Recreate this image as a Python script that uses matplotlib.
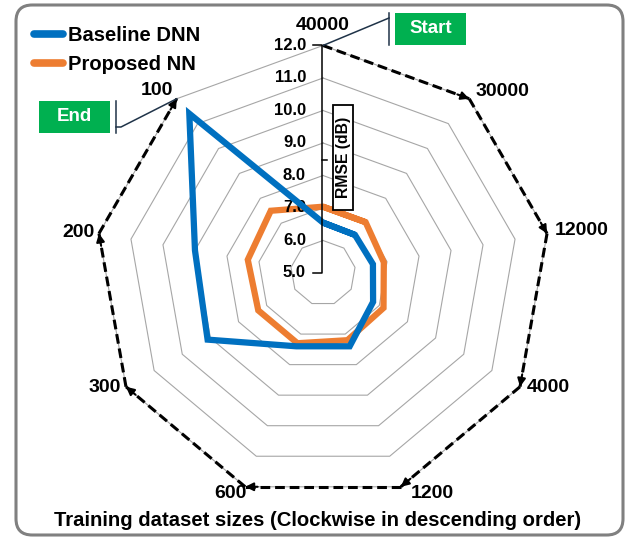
import numpy as np
import matplotlib.pyplot as plt
from matplotlib.lines import Line2D
from matplotlib.patches import Rectangle, FancyBboxPatch

plt.rcParams['font.family'] = ['Liberation Sans', 'DejaVu Sans']
plt.rcParams['font.weight'] = 'bold'
plt.rcParams['lines.scale_dashes'] = False

# data, clockwise from the top
sizes = ['40000', '30000', '12000', '4000', '1200', '600', '300', '200', '100']
baseline_dnn = [6.55, 6.53, 6.56, 6.78, 7.4, 7.4, 9.1, 9.0, 11.4]
proposed_nn = [7.04, 7.04, 6.9, 7.15, 7.2, 7.3, 7.3, 7.35, 7.5]
r_ticks = [5.0, 6.0, 7.0, 8.0, 9.0, 10.0, 11.0, 12.0]

BLUE = '#0070C0'
ORANGE = '#ED7D31'
GREEN = '#00B050'
NAVY = '#1F3348'

W, H = 635, 539
CX, CY = 323, 273   # centre of the radar (pixels, from top-left)
SCALE = 32.5        # pixels per dB

fig = plt.figure(figsize=(W / 100, H / 100), dpi=100)
ax = fig.add_axes([0, 0, 1, 1])
ax.set_xlim(-CX / SCALE, (W - CX) / SCALE)
ax.set_ylim(-(H - CY) / SCALE, CY / SCALE)
ax.axis('off')

r0, r1 = r_ticks[0], r_ticks[-1]
n = len(sizes)
ang = np.pi / 2 - 2 * np.pi * np.arange(n) / n


def xy(vals):
    r = np.asarray(vals, dtype=float) - r0
    return r * np.cos(ang), r * np.sin(ang)


def px(x, y):
    # image pixel -> data coords
    return (x - CX) / SCALE, (CY - y) / SCALE


# polygon grid
for t in r_ticks[1:]:
    gx, gy = xy([t] * n)
    ax.plot(np.r_[gx, gx[0]], np.r_[gy, gy[0]], color='#A6A6A6', lw=0.8, zorder=1)

# dashed outer ring with arrows (40000 -> 100)
ox, oy = xy([r1] * n)
for i in range(n - 1):
    ax.plot([ox[i], ox[i + 1]], [oy[i], oy[i + 1]], color='black', lw=2.2,
            dashes=(7, 3.5), zorder=2)
    dx, dy = ox[i + 1] - ox[i], oy[i + 1] - oy[i]
    ax.annotate('', xy=(ox[i + 1], oy[i + 1]),
                xytext=(ox[i + 1] - 0.08 * dx, oy[i + 1] - 0.08 * dy),
                arrowprops=dict(arrowstyle='-|>', color='black', lw=1.5,
                                mutation_scale=12, shrinkA=0, shrinkB=0),
                zorder=2)

# series
for vals, col, z in [(proposed_nn, ORANGE, 3), (baseline_dnn, BLUE, 4)]:
    sx, sy = xy(vals)
    ax.plot(np.r_[sx, sx[:2]], np.r_[sy, sy[:2]], color=col, lw=4.5,
            solid_joinstyle='miter', solid_capstyle='butt', zorder=z)

handles = [Line2D([], [], color=BLUE, lw=5.5, solid_capstyle='round'),
           Line2D([], [], color=ORANGE, lw=5.5, solid_capstyle='round')]
ax.legend(handles, ['Baseline DNN', 'Proposed NN'], loc='upper left',
          bbox_to_anchor=(34 / W, 1 - 26 / H), frameon=False,
          handlelength=1.45, handletextpad=0.25, borderpad=0, borderaxespad=0,
          labelspacing=0.5, prop=dict(weight='bold', size=14.5))

# radial tick labels and bracket
for t in r_ticks:
    ax.text(*px(306, CY - (t - r0) * SCALE), f'{t:.1f}', ha='right', va='center',
            fontsize=12, fontweight='bold')
bx = px(321.7, 0)[0]
ax.plot([px(313, 0)[0], bx, bx, px(313, 0)[0]], [r1 - r0, r1 - r0, 0, 0],
        color='black', lw=1.1, zorder=5)
ax.plot([bx, px(327, 0)[0]], [px(0, 160)[1]] * 2, color='black', lw=1.1, zorder=5)
x0, y0 = px(333, 210)
ax.add_patch(Rectangle((x0, y0), 20 / SCALE, 105 / SCALE, facecolor='white',
                       edgecolor='black', lw=1.3, zorder=5))
ax.text(*px(343.3, 157), 'RMSE (dB)', rotation=90, ha='center', va='center',
        fontsize=11.3, fontweight='bold', zorder=6)

# category labels
label_pos = [(0, -20, 'center'), (6, -7, 'left'), (8, -3, 'left'), (7, 1, 'left'),
             (10, 7, 'left'), (1, 7, 'right'), (-5, 1, 'right'), (-4, -1, 'right'),
             (-4, -8, 'right')]
for i, s in enumerate(sizes):
    dx, dy, ha = label_pos[i]
    ax.annotate(s, (ox[i], oy[i]), xytext=(dx, -dy), textcoords='offset pixels',
                ha=ha, va='center', fontsize=14, fontweight='bold')

# Start / End call-outs
for (x_a, y_a, x_b, y_b), text, vi, hook in [((395, 13, 466, 45), 'Start', 0, None),
                                           ((39, 101, 110, 133), 'End', n - 1, 127)]:
    bl = px(x_a, y_b)
    ax.add_patch(Rectangle(bl, (x_b - x_a) / SCALE, (y_b - y_a) / SCALE,
                           facecolor=GREEN, edgecolor='none', zorder=5))
    ax.text(*px((x_a + x_b) / 2, (y_a + y_b) / 2), text, color='white',
            ha='center', va='center', fontsize=13.5, fontweight='bold', zorder=6)
    if text == 'Start':
        vx = px(x_a - 6, 0)[0]
        ax.plot([vx, vx], [px(0, y_a)[1], px(0, y_b)[1]], color=NAVY, lw=1.1)
        ax.plot([ox[vi], vx], [oy[vi], px(0, 18)[1]], color=NAVY, lw=1.1)
    else:
        vx = px(x_b + 6, 0)[0]
        ax.plot([vx, vx], [px(0, y_a)[1], px(0, y_b)[1]], color=NAVY, lw=1.1)
        ax.plot([vx, px(x_b + 11, 0)[0], ox[vi]], [px(0, hook)[1]] * 2 + [oy[vi]],
                color=NAVY, lw=1.1)

ax.text(*px(318, 521), 'Training dataset sizes (Clockwise in descending order)',
        ha='center', va='center', fontsize=14.6, fontweight='bold')

# rounded outer frame
fx, fy = px(16, 535)
ax.add_patch(FancyBboxPatch((fx, fy), (623 - 16) / SCALE, (535 - 5) / SCALE,
                            boxstyle='round,pad=0,rounding_size=0.5',
                            facecolor='none', edgecolor='#808080', lw=2.2,
                            clip_on=False, zorder=0))

fig.savefig('out.png', dpi=100)
